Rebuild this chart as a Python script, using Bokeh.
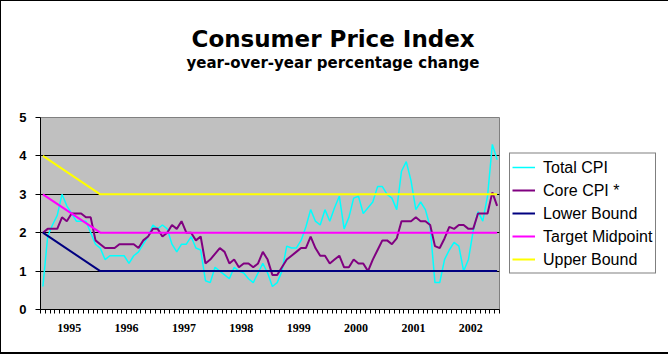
from bokeh.plotting import figure
from bokeh.models import Legend, LegendItem, FixedTicker, Range1d, Title
from bokeh.embed import file_html
from bokeh.resources import INLINE

# ---------------- data ----------------
years = ["1995", "1996", "1997", "1998", "1999", "2000", "2001", "2002"]

total_cpi = [
    0.6, 1.9, 2.2, 2.45, 3.0, 2.7, 2.5, 2.3, 2.3, 2.3, 2.0, 1.7,
    1.6, 1.3, 1.4, 1.4, 1.4, 1.4, 1.2, 1.4, 1.5, 1.7, 1.9, 2.2,
    2.1, 2.2, 2.1, 1.7, 1.5, 1.7, 1.7, 1.9, 1.6, 1.55, 0.75, 0.7,
    1.1, 1.0, 0.9, 0.8, 1.1, 1.0, 0.95, 0.8, 0.7, 0.95, 1.2, 0.95,
    0.6, 0.7, 1.0, 1.65, 1.6, 1.6, 1.8, 2.15, 2.6, 2.3, 2.2, 2.6,
    2.3, 2.65, 2.95, 2.1, 2.4, 2.9, 2.95, 2.5, 2.65, 2.8, 3.2, 3.2,
    3.0, 2.9, 2.6, 3.6, 3.85, 3.35, 2.6, 2.8, 2.6, 2.15, 0.7, 0.7,
    1.3, 1.55, 1.75, 1.65, 1.0, 1.3, 2.05, 2.55, 2.3, 2.95, 4.3, 3.9,
]

core_cpi = [
    2.0, 2.1, 2.1, 2.1, 2.4, 2.3, 2.5, 2.5, 2.5, 2.4, 2.4, 1.8,
    1.7, 1.6, 1.6, 1.6, 1.7, 1.7, 1.7, 1.7, 1.6, 1.8, 1.9, 2.1,
    2.1, 1.9, 2.0, 2.2, 2.1, 2.3, 2.0, 2.0, 1.8, 1.9, 1.2, 1.3,
    1.45, 1.6, 1.5, 1.2, 1.3, 1.1, 1.2, 1.2, 1.1, 1.2, 1.5, 1.3,
    0.9, 0.9, 1.1, 1.3, 1.4, 1.5, 1.6, 1.6, 1.9, 1.6, 1.4, 1.4,
    1.2, 1.3, 1.4, 1.1, 1.1, 1.3, 1.2, 1.2, 1.0, 1.3, 1.55, 1.8,
    1.8, 1.7, 1.85, 2.3, 2.3, 2.3, 2.4, 2.3, 2.3, 2.2, 1.65, 1.6,
    1.85, 2.15, 2.1, 2.2, 2.2, 2.1, 2.1, 2.5, 2.5, 2.5, 3.05, 2.7,
]

# target band breakpoints (month index, value)
band_months = [0, 12, 95]
lower_bound = [2.0, 1.0, 1.0]
target_mid = [3.0, 2.0, 2.0]
upper_bound = [4.0, 3.0, 3.0]

y_ticks = [0, 1, 2, 3, 4, 5]

title_text = "Consumer Price Index"
subtitle_text = "year-over-year percentage change"

months = list(range(len(total_cpi)))
n = len(months)

W, H = 665, 351
FL, FT, FW, FH = 39, 116, 459, 192   # frame left/top/width/height on canvas

p = figure(width=W, height=H, frame_width=FW, frame_height=FH,
           output_backend="svg", toolbar_location=None,
           x_range=Range1d(-0.5, n - 0.5), y_range=Range1d(0, 5),
           min_border_left=FL, min_border_top=FT,
           min_border_right=W - FL - FW, min_border_bottom=H - FT - FH)
p.styles = {"border-left": "1px solid black", "border-top": "1px solid black",
            "border-right": "2px solid black", "border-bottom": "2px solid black"}

p.background_fill_color = "#C0C0C0"
p.border_fill_color = "white"
p.outline_line_color = "#808080"
p.outline_line_width = 1

p.xgrid.visible = False
p.ygrid.ticker = FixedTicker(ticks=y_ticks[1:-1])
p.ygrid.grid_line_color = "black"
p.ygrid.grid_line_width = 1

p.yaxis.ticker = FixedTicker(ticks=y_ticks)
p.yaxis.axis_line_color = "black"
p.yaxis.major_tick_out = 5
p.yaxis.major_tick_in = 0
p.yaxis.minor_tick_line_color = None
p.yaxis.major_label_standoff = 9
p.yaxis.major_label_text_font = "Liberation Sans"
p.yaxis.major_label_text_font_style = "bold"
p.yaxis.major_label_text_font_size = "13px"
p.yaxis.major_label_text_color = "black"

label_pos = [12 * k + 5.5 for k in range(len(years))]
p.xaxis.ticker = FixedTicker(ticks=label_pos,
                             minor_ticks=[m - 0.5 for m in range(n + 1)])
p.xaxis.major_label_overrides = {pos: yr for pos, yr in zip(label_pos, years)}
p.xaxis.axis_line_color = "black"
p.xaxis.major_tick_out = 4
p.xaxis.major_tick_in = 0
p.xaxis.minor_tick_out = 4
p.xaxis.minor_tick_in = 0
p.xaxis.minor_tick_line_color = "black"
p.xaxis.major_label_standoff = 10
p.xaxis.major_label_text_font = "Liberation Sans Narrow"
p.xaxis.major_label_text_font_style = "bold"
p.xaxis.major_label_text_font_size = "12px"
p.xaxis.major_label_text_color = "black"

r_total = p.line(months, total_cpi, line_color="#00FFFF", line_width=1.5)
r_core = p.line(months, core_cpi, line_color="#800080", line_width=2)
r_low = p.line(band_months, lower_bound, line_color="#000080", line_width=2)
r_mid = p.line(band_months, target_mid, line_color="#FF00FF", line_width=2)
r_up = p.line(band_months, upper_bound, line_color="#FFFF00", line_width=2)

legend = Legend(items=[
    LegendItem(label="Total CPI", renderers=[r_total]),
    LegendItem(label="Core CPI *", renderers=[r_core]),
    LegendItem(label="Lower Bound", renderers=[r_low]),
    LegendItem(label="Target Midpoint", renderers=[r_mid]),
    LegendItem(label="Upper Bound", renderers=[r_up]),
], location="center_left")
legend.margin = 10
legend.padding = 2
legend.spacing = 0
legend.glyph_width = 23
legend.glyph_height = 23
legend.label_height = 23
legend.label_width = 110
legend.label_standoff = 8
legend.border_line_color = "black"
legend.border_line_width = 1
legend.background_fill_color = "white"
legend.background_fill_alpha = 1
legend.label_text_font = "Liberation Sans"
legend.label_text_font_size = "16px"
legend.label_text_color = "black"
p.add_layout(legend, "right")

# titles: stacked outward from the frame (first added = closest)
p.add_layout(Title(text=" ", text_font_size="1px", standoff=43), "above")
p.add_layout(Title(text=subtitle_text, align="left", offset=146,
                   text_font="DejaVu Sans", text_font_style="bold",
                   text_font_size="15px", text_color="black", standoff=0), "above")
p.add_layout(Title(text=title_text, align="left", offset=151,
                   text_font="DejaVu Sans", text_font_style="bold",
                   text_font_size="23px", text_color="black", standoff=0), "above")

open("out.html", "w").write(file_html(p, INLINE))
